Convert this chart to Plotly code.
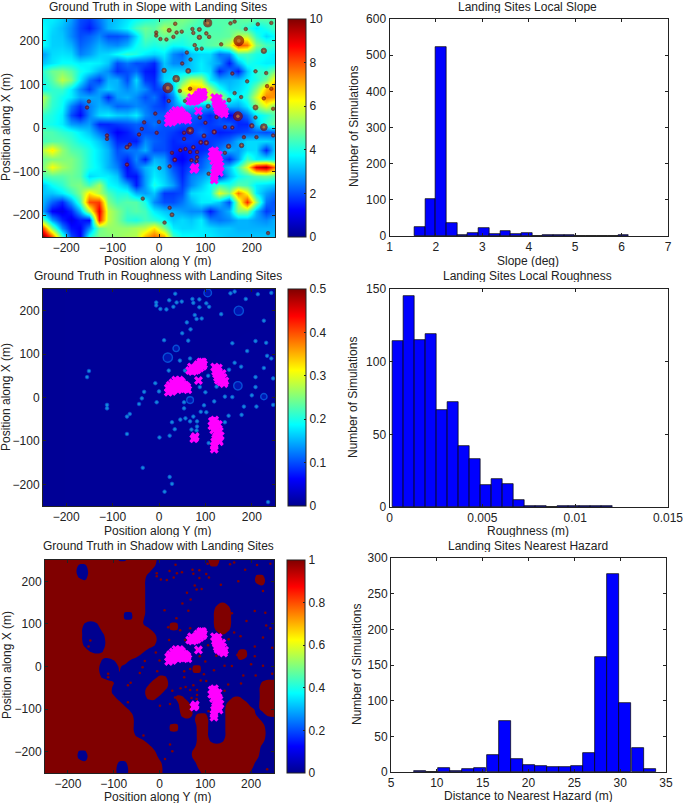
import numpy as np
import plotly.graph_objects as go

W, H = 685, 803

grid_axis = [-250,-230,-210,-190,-170,-150,-130,-110,-90,-70,-50,-30,-10,10,30,50,70,90,110,130,150,170,190,210,230,250]
grid_rows = [250,230,210,190,170,150,130,110,90,70,50,30,10,-10,-30,-50,-70,-90,-110,-130,-150,-170,-190,-210,-230,-250]

slope_z = [
 [3.6,3.6,3.3,2.8,2.0,1.8,2.4,3.0,3.2,3.5,3.8,4.0,4.2, 4.5,4.8,5.0,4.8,4.4,4.5,4.6,4.5,4.6,4.8,4.6,4.6,4.5],
 [3.8,3.4,3.1,2.6,1.9,1.5,2.2,3.0,3.3,3.7,4.4,4.8,4.6, 5.4,5.0,4.7,4.4,4.3,4.5,4.5,4.7,4.6,4.2,3.6,4.0,4.4],
 [3.8,3.3,3.2,2.6,2.0,2.2,2.6,2.0,2.0,2.3,3.4,4.6,4.4, 4.8,4.6,4.2,4.4,4.4,4.6,4.6,4.7,5.6,5.6,4.2,3.4,3.8],
 [3.8,3.3,3.3,3.0,2.2,2.5,3.0,2.7,2.6,3.0,3.8,4.2,4.0, 4.2,3.8,3.9,4.2,4.4,4.6,4.8,5.6,8.0,7.6,5.0,4.4,4.2],
 [2.8,3.4,3.5,3.4,2.5,2.8,3.3,3.4,3.8,4.2,4.0,3.6,3.4, 3.6,2.6,2.2,3.2,3.4,3.4,2.4,2.6,4.4,4.4,4.0,3.8,3.6],
 [3.2,3.5,3.8,3.8,3.6,3.7,3.6,3.2,2.0,2.4,2.0,2.0,1.6, 3.2,2.6,2.6,3.2,3.6,3.2,2.8,1.5,3.0,4.0,3.8,3.6,3.6],
 [4.2,4.8,5.0,4.6,3.9,3.6,3.0,2.6,1.7,2.0,2.3,1.5,1.4, 3.2,3.4,3.4,3.2,3.6,3.4,1.6,2.4,1.5,3.2,4.2,4.2,5.0],
 [4.0,4.6,5.6,5.0,3.6,2.4,1.8,3.0,3.0,2.0,3.4,1.8,1.6, 3.4,3.6,4.6,5.8,5.6,3.6,3.0,3.0,3.2,3.6,4.0,4.8,6.5],
 [3.8,4.2,4.3,3.6,2.6,1.8,2.8,3.3,3.0,2.6,3.0,2.6,1.8, 2.0,3.2,6.0,7.0,6.8,5.5,4.0,3.2,3.4,3.8,5.0,6.8,7.6],
 [5.5,4.3,3.9,3.6,2.9,2.9,2.8,1.6,2.8,3.0,2.6,2.0,2.4, 1.5,2.6,4.6,5.5,5.0,6.0,5.8,4.0,3.6,4.2,5.8,7.5,7.2],
 [5.0,4.2,3.8,2.5,1.7,2.5,3.0,2.8,2.2,2.3,2.6,2.4,2.0, 1.8,2.5,3.2,3.0,3.0,2.8,3.0,3.0,2.9,3.6,5.0,6.0,5.0],
 [4.2,4.0,3.6,2.0,1.3,2.5,3.4,3.6,3.3,3.2,3.6,2.6,2.2, 2.2,2.5,2.0,2.2,2.0,1.6,2.0,1.2,1.6,2.4,3.6,4.0,4.6],
 [4.0,3.9,3.6,2.8,2.6,2.8,1.6,1.6,1.8,2.0,2.2,2.0,2.4, 2.0,2.2,2.0,2.0,1.8,1.8,2.0,2.2,1.6,1.6,3.2,4.2,4.8],
 [4.6,4.5,4.2,4.0,3.6,3.2,2.4,1.8,1.2,1.5,2.0,2.0,2.0, 2.0,1.8,1.5,1.7,2.2,1.8,1.5,1.6,1.8,2.0,2.2,2.0,2.2],
 [4.4,4.6,4.6,4.3,3.9,3.7,3.2,2.6,1.6,1.6,1.5,2.6,2.2, 2.0,1.6,1.8,1.8,1.6,1.8,2.0,2.3,3.0,3.4,3.4,3.4,3.2],
 [5.6,6.4,5.2,4.6,4.4,4.0,3.5,3.0,2.0,2.4,2.4,3.0,2.0, 2.0,1.6,1.4,1.5,1.6,1.8,2.4,3.0,2.8,3.4,3.4,1.6,3.4],
 [4.8,5.0,5.0,5.0,4.6,4.0,3.5,3.0,2.2,1.6,2.6,1.5,3.0, 2.8,1.4,1.2,1.6,2.0,2.6,2.4,1.6,2.8,4.4,3.6,3.6,3.6],
 [5.0,6.2,5.4,5.0,4.6,4.0,3.6,3.0,2.5,1.3,2.2,3.0,3.4, 3.0,2.0,1.5,2.0,2.2,2.8,2.6,3.2,4.4,6.0,9.0,9.6,7.5],
 [4.4,4.6,4.6,4.8,4.6,3.4,3.6,3.6,3.2,1.5,1.4,2.8,3.6, 3.2,2.4,1.6,2.5,2.8,3.2,1.6,3.0,3.8,4.2,4.6,4.8,4.6],
 [3.2,3.8,4.2,4.8,5.0,4.4,5.4,3.8,3.6,3.0,1.5,2.8,4.0, 3.4,2.8,1.8,2.6,3.2,3.8,4.4,4.0,4.6,4.4,3.6,3.4,3.2],
 [3.2,3.2,3.6,4.2,5.0,6.5,5.5,4.5,4.0,4.0,3.0,2.8,3.2, 1.8,1.8,2.0,3.4,3.6,3.8,6.0,5.0,7.6,6.2,3.6,2.8,2.4],
 [3.0,2.2,1.6,2.8,4.4,8.0,8.2,5.0,4.4,4.6,4.6,4.0,2.6, 2.0,2.0,2.4,3.0,3.6,3.6,3.2,2.0,5.5,8.4,5.2,2.4,2.0],
 [2.8,1.2,1.0,1.6,3.0,5.5,9.0,5.6,5.0,4.4,4.6,4.4,3.6, 3.2,3.0,2.8,2.6,2.6,1.5,2.4,3.0,5.0,5.0,3.0,1.8,2.2],
 [4.8,2.8,1.6,1.0,1.5,1.3,8.5,5.6,5.0,4.2,4.0,4.4,4.2, 3.8,3.2,3.4,3.2,3.6,2.6,2.4,2.6,3.0,3.0,2.8,2.6,3.0],
 [8.0,5.0,2.6,1.4,1.2,2.6,4.8,5.2,5.2,5.2,5.4,5.6,6.5, 5.0,3.6,3.4,3.4,3.6,3.4,3.2,3.2,3.0,3.0,3.0,3.0,3.0],
 [10,8.0,4.5,2.0,1.2,4.0,5.0,5.0,5.2,5.4,5.5,7.0,7.8, 7.2,4.4,3.8,3.8,3.6,3.6,3.4,3.2,3.2,3.2,3.2,3.2,3.2],
]

rough_axis = [-250, 0, 250]
rough_rows = [250, 0, -250]
rough_z = [[0.004, 0.005, 0.005], [0.004, 0.005, 0.006], [0.004, 0.005, 0.005]]

shadow_axis = [-250, -237.5, -225, -212.5, -200, -187.5, -175, -162.5, -150, -137.5, -125, -112.5, -100, -87.5, -75, -62.5, -50, -37.5, -25, -12.5, 0, 12.5, 25, 37.5, 50, 62.5, 75, 87.5, 100, 112.5, 125, 137.5, 150, 162.5, 175, 187.5, 200, 212.5, 225, 237.5, 250]
shadow_rows = [250, 237.5, 225, 212.5, 200, 187.5, 175, 162.5, 150, 137.5, 125, 112.5, 100, 87.5, 75, 62.5, 50, 37.5, 25, 12.5, 0, -12.5, -25, -37.5, -50, -62.5, -75, -87.5, -100, -112.5, -125, -137.5, -150, -162.5, -175, -187.5, -200, -212.5, -225, -237.5, -250]
shadow_map = [
 "#############..#####.........##..........",
 "######..############.........##..........",
 "######..###########......................",
 "######..##########...................##..",
 "#######.##########...................##..",
 "##################....................#..",
 "##################.......................",
 "##################.......................",
 "##################.............#.........",
 "##################............###........",
 "##############..##............###........",
 "##############..##............###........",
 "#######...#######.....##......###........",
 "#######...#########...##......###........",
 "#######....#########...........#.........",
 "#######....#########.....................",
 "#######....#########.....................",
 "########...#######................##.....",
 "#################.................##.....",
 "##########...##...................#......",
 "##########...#............##.............",
 "##########...#............##.............",
 "##########...#......##...................",
 "#############......###................###",
 "############......####................###",
 "############......###..#..............###",
 "#############.....##...##........##...###",
 "##############..........##......####..###",
 "###############.........##......#####.###",
 "################........##.##...#####..##",
 "################.........#.##...######...",
 "################......##...##...#######..",
 "################......##...##...#######..",
 "################...........##...#######..",
 "##################.........##...#######..",
 "###################........###########...",
 "######..############......############...",
 "######..############......############...",
 "#######.#####..######......##########....",
 "#############..######......##########....",
 "########.####..######.......########.....",
]
shadow_z = np.array([[1.0 if ch == "#" else 0.0 for ch in row] for row in shadow_map])
# the binary mask is softened a little so the 0.5 contour follows a rounded edge
soft = np.pad(shadow_z, 1, mode="edge")
kernel = np.array([1, 2, 1]) / 4
soft = np.apply_along_axis(lambda v: np.convolve(v, kernel, mode="same"), 0, soft)
soft = np.apply_along_axis(lambda v: np.convolve(v, kernel, mode="same"), 1, soft)
shadow_soft = soft[1:-1, 1:-1]

site_y = [20,24,20,28,28,32,32,36,36,40,40,44,44,36,48,48,52,52,56,56,60,62,24,30,40,46,
          66,70,72,76,80,82,84,88,90,94,94,90,86,96,78,
          120,124,128,122,128,124,130,136,126,132,138,142,134,128,140,
          85,
          115,120,122,114,120,128,126,118,124,130,132,126,122,128,120,130,
          77,78,75,119,119]
site_x = [12,18,22,14,24,18,28,22,32,26,36,30,40,40,28,36,22,30,20,28,24,18,28,34,18,22,
          62,70,60,66,70,64,76,68,78,72,82,82,72,76,62,
          70,66,68,60,60,54,52,55,46,42,46,38,36,40,32,
          39,
          -55,-52,-60,-65,-68,-62,-72,-75,-80,-78,-88,-88,-95,-98,-102,-102,
          -93,-90,-95,-119,-112]

crater_y = [105,19,37,172,170,67,226,226,11,63,35,22,38,49,-6,-6,3,16,31,72,74,87,87,102,108,77,81,92,134,154,163,187,213,242,60,68,50,158,208,231,190,45,67,21,56,151,163,177,233,242,226,208,246,208,200,246,183,210,178,150,142,119,97,90,102,74,82,82,81,70,67,57,46,28,34,23,1,-69,-69,-63,-112,-112,-155,-151,-32,-37,-43,-5,-8,0,54,54,88,106,124,100,142,158,-35,23,28,12,235,107]
crater_x = [241,92,113,200,27,-6,2,177,132,131,239,224,219,221,219,212,204,203,209,227,218,226,208,217,209,190,181,182,192,240,244,227,238,241,173,157,148,125,130,126,107,85,90,62,62,64,80,71,96,90,68,47,44,24,5,-17,-21,-21,-40,-42,-57,-9,-18,-33,-34,-44,-55,-67,-76,-74,-55,-48,-51,-57,-73,-88,-92,-84,-44,-38,-17,-25,47,61,13,-2,-15,-11,33,14,-11,-25,24,50,25,12,2,1,-162,-183,-199,-217,-241,-105]
crater_d = [18,22,15,22,20,16,15,12,10,11,8,9,7,7,5,5,6,6,6,6,7,9,10,8,8,8,6,6,5,6,5,6,5,6,6,5,6,5,7,6,6,6,6,7,5,9,6,6,8,7,7,11,6,6,10,7,5,5,10,10,7,10,9,9,10,8,7,8,7,6,6,6,6,5,9,6,6,6,9,5,6,5,5,5,5,6,6,5,5,6,6,6,8,9,8,7,7,7,5,6,9,5,5,6]

slope_centers = [1.65,1.88,2.11,2.34,2.57,2.80,3.03,3.27,3.50,3.73,3.96,4.19,4.42,4.65,4.88,5.11,5.34,5.58,5.81,6.04]
slope_counts = [25,103,522,36,2,8,22,6,13,5,7,1,4,4,3,1,1,1,1,3]
rough_centers = [0.00044,0.00103,0.00163,0.00222,0.00281,0.00340,0.00400,0.00459,0.00518,0.00578,0.00637,0.00696,0.00755,0.00815,0.00874,0.00933,0.00993,0.01052,0.01111,0.0117]
rough_counts = [114,145,115,119,67,72,42,33,15,19,16,5,1,1,0,1,1,1,1,1]
hazard_centers = [8.17,9.49,10.81,12.12,13.44,14.76,16.08,17.40,18.72,20.03,21.35,22.67,23.99,25.31,26.62,27.94,29.26,30.58,31.90,33.21]
hazard_counts = [1,0,5,1,4,5,24,71,18,10,9,7,7,9,27,161,278,97,34,4]

map_ticks = [-200, -100, 0, 100, 200]
JET = [[0, "#00008f"], [0.125, "#0000ff"], [0.375, "#00ffff"], [0.625, "#ffff00"], [0.875, "#ff0000"], [1, "#800000"]]
INK = "#222222"
FONT = "Liberation Sans"


def xd(a, b):
    return [a / W, b / W]


def yd(a, b):
    return [1 - b / H, 1 - a / H]


fig = go.Figure()


def style_axes(n, rect, xrange, yrange, xt, yt, xtext=None):
    x0, y0, x1, y1 = rect
    sx = "" if n == 1 else str(n)
    common = dict(showgrid=False, zeroline=False, showline=True, linecolor=INK, linewidth=1,
                  ticks="inside", ticklen=3, tickcolor=INK, mirror="ticks", automargin=False,
                  tickfont=dict(size=12, color=INK, family=FONT))
    fig.layout["xaxis" + sx] = dict(common, domain=xd(x0, x1), range=xrange, tickvals=xt, ticktext=xtext, anchor="y" + sx)
    fig.layout["yaxis" + sx] = dict(common, domain=yd(y0, y1), range=yrange, tickvals=yt, anchor="x" + sx)


def colorbar(rect, ticks):
    x0, y0, x1, y1 = rect
    return dict(x=x1 / W + 13 / W, xanchor="left", xpad=0, ypad=0, y=1 - y1 / H, yanchor="bottom",
                len=(y1 - y0) / H, lenmode="fraction", thickness=18, thicknessmode="pixels",
                tickvals=ticks, ticks="inside", ticklen=2, tickcolor=INK, outlinecolor=INK, outlinewidth=1,
                tickfont=dict(size=12, color=INK, family=FONT))


def sites(n):
    sx = "" if n == 1 else str(n)
    fig.add_trace(go.Scatter(x=site_y, y=site_x, mode="markers", xaxis="x" + sx, yaxis="y" + sx, showlegend=False,
                             marker=dict(symbol="x", size=8, color="#ff00ff", line=dict(width=0))))


r1 = (43, 19, 275, 237)
r2 = (43, 289, 275, 506)
r3 = (45, 560, 274, 773)
h1 = (389.5, 19, 668, 236)
h2 = (389.5, 289, 668, 507)
h3 = (391, 558, 666, 772)

# slope map
fig.add_trace(go.Heatmap(x=grid_axis, y=grid_rows, z=slope_z, zmin=0, zmax=10, colorscale=JET, zsmooth="best",
                         colorbar=colorbar(r1, [0, 2, 4, 6, 8, 10]), xaxis="x", yaxis="y"))
fig.add_trace(go.Scatter(x=crater_y, y=crater_x, mode="markers", xaxis="x", yaxis="y", showlegend=False,
                         marker=dict(size=[max(3.5, d * 0.45) for d in crater_d], color="#8a1006",
                                     line=dict(width=0.8, color="#700000"))))
fig.add_trace(go.Scatter(x=crater_y, y=crater_x, mode="markers", xaxis="x", yaxis="y", showlegend=False,
                         marker=dict(size=[d * 0.17 for d in crater_d], color="#d08838", line=dict(width=0))))
sites(1)

# roughness map
fig.add_trace(go.Heatmap(x=rough_axis, y=rough_rows, z=rough_z, zmin=0, zmax=0.5, colorscale=JET, zsmooth="best",
                         colorbar=colorbar(r2, [0, 0.1, 0.2, 0.3, 0.4, 0.5]), xaxis="x2", yaxis="y2"))
fig.add_trace(go.Scatter(x=crater_y, y=crater_x, mode="markers", xaxis="x2", yaxis="y2", showlegend=False,
                         marker=dict(size=[d * 0.42 if d >= 13 else 3.6 for d in crater_d],
                                     color=["rgba(0,50,220,0.6)" if d >= 13 else "#20c0f0" for d in crater_d],
                                     line=dict(width=[1.4 if d >= 13 else 0.8 for d in crater_d], color="#0a70f0"))))
sites(2)

# shadow map
fig.add_trace(go.Contour(x=shadow_axis, y=shadow_rows, z=shadow_soft, zmin=0, zmax=1, showscale=False,
                         colorscale=[[0, "#00008f"], [1, "#800000"]], autocontour=False,
                         contours=dict(start=0.5, end=0.5, size=1, coloring="fill"),
                         line=dict(width=0, smoothing=1.3), xaxis="x3", yaxis="y3"))
fig.add_trace(go.Scatter(x=crater_y, y=crater_x, mode="markers", xaxis="x3", yaxis="y3", showlegend=False,
                         marker=dict(size=2.5, color="#800000")))
fig.add_trace(go.Scatter(x=[None, None], y=[None, None], mode="markers", xaxis="x3", yaxis="y3", showlegend=False,
                         marker=dict(color=[0, 1], cmin=0, cmax=1, colorscale=JET, showscale=True,
                                     colorbar=colorbar(r3, [0, 0.2, 0.4, 0.6, 0.8, 1]))))
sites(3)

# histograms
for sx, cx, cy in (("4", slope_centers, slope_counts), ("5", rough_centers, rough_counts), ("6", hazard_centers, hazard_counts)):
    fig.add_trace(go.Bar(x=cx, y=cy, xaxis="x" + sx, yaxis="y" + sx, showlegend=False,
                         marker=dict(color="#0000ff", line=dict(color="#000000", width=0.7))))

map_range = [-250, 250]
style_axes(1, r1, map_range, map_range, map_ticks, map_ticks)
style_axes(2, r2, map_range, map_range, map_ticks, map_ticks)
style_axes(3, r3, map_range, map_range, map_ticks, map_ticks)
style_axes(4, h1, [1, 7], [0, 600], [1, 2, 3, 4, 5, 6, 7], [0, 100, 200, 300, 400, 500, 600])
style_axes(5, h2, [0, 0.015], [0, 150], [0, 0.005, 0.01, 0.015], [0, 50, 100, 150], xtext=["0", "0.005", "0.01", "0.015"])
style_axes(6, h3, [5, 35], [0, 300], [5, 10, 15, 20, 25, 30, 35], [0, 50, 100, 150, 200, 250, 300])

labels = [
    ("Ground Truth in Slope with Landing Sites", 158, 7, 0),
    ("Landing Sites Local Slope", 527, 7, 0),
    ("Ground Truth in Roughness with Landing Sites", 158, 276, 0),
    ("Landing Sites Local Roughness", 527, 276, 0),
    ("Ground Truth in Shadow with Landing Sites", 158, 546, 0),
    ("Landing Sites Nearest Hazard", 528, 546, 0),
    ("Position along Y (m)", 158, 261, 0),
    ("Position along Y (m)", 158, 531, 0),
    ("Position along Y (m)", 158, 797, 0),
    ("Slope (deg)", 528, 261, 0),
    ("Roughness (m)", 528, 531, 0),
    ("Distance to Nearest Hazard (m)", 528, 796, 0),
    ("Position along X (m)", 6, 127, -90),
    ("Position along X (m)", 6, 397, -90),
    ("Position along X (m)", 7, 665, -90),
    ("Number of Simulations", 354, 127, -90),
    ("Number of Simulations", 353, 397, -90),
    ("Number of Simulations", 357, 665, -90),
]
fig.update_layout(
    width=W, height=H, margin=dict(l=0, r=0, t=0, b=0, autoexpand=False), paper_bgcolor="white", plot_bgcolor="white",
    bargap=0, showlegend=False, font=dict(family=FONT, color=INK),
    annotations=[dict(text=t, x=x / W, y=1 - y / H, xref="paper", yref="paper", xanchor="center", yanchor="middle",
                      textangle=a, showarrow=False, borderpad=0, height=12 if a == 0 else None,
                      font=dict(size=12, color=INK, family=FONT)) for t, x, y, a in labels],
)

fig.write_html("out.html", config={"displayModeBar": False}, post_script="document.body.style.margin='0';")
